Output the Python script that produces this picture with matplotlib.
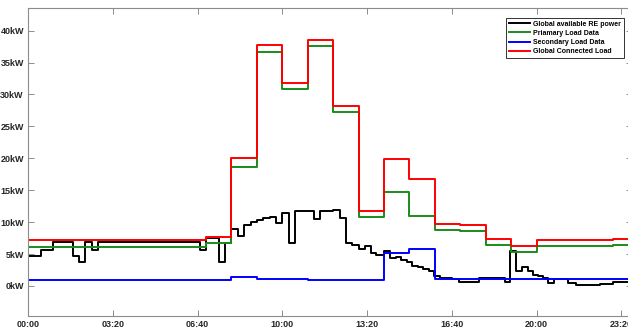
import numpy as np
import matplotlib
matplotlib.use('Agg')
import matplotlib.pyplot as plt

plt.rcParams['font.family'] = ['Liberation Sans', 'DejaVu Sans']
plt.rcParams['font.weight'] = 'bold'

# hourly loads (kW), one value per hour starting 00:00
hours = np.arange(24)
primary_kw = [6.1, 6.1, 6.1, 6.1, 6.1, 6.1, 6.1, 6.7, 18.6, 36.7, 30.8, 37.6,
              27.2, 10.8, 14.7, 11.0, 8.7, 8.6, 6.4, 5.4, 6.2, 6.25, 6.3, 6.35]
secondary_kw = [1.0, 1.0, 1.0, 1.0, 1.0, 0.98, 0.95, 0.95, 1.4, 1.15, 1.05, 1.0,
                1.0, 1.0, 5.1, 5.8, 1.1, 1.1, 1.1, 1.1, 1.1, 1.1, 1.1, 1.1]
connected_kw = [7.15, 7.15, 7.15, 7.15, 7.15, 7.15, 7.15, 7.6, 20.0, 37.8, 31.8, 38.6,
                28.2, 11.7, 19.9, 16.7, 9.7, 9.5, 7.3, 6.2, 7.2, 7.2, 7.25, 7.3]
connected_start_kw = 1.0   # first sample before the load switches on

# available RE power, step breakpoints (minutes from midnight, kW)
re_t = [0, 30, 60, 105, 120, 135, 150, 165, 405, 420, 450, 465, 480, 495, 510,
        525, 540, 555, 570, 585, 600, 615, 630, 675, 690, 720, 735, 750, 765,
        780, 795, 810, 822, 840, 855, 868, 881, 893, 907, 921, 932, 946, 958,
        971, 1000, 1018, 1035, 1065, 1125, 1137, 1151, 1165, 1180, 1192, 1204,
        1216, 1228, 1241, 1274, 1294, 1349, 1380, 1440]
re_kw = [4.7, 5.6, 6.95, 4.7, 3.7, 6.95, 5.6, 6.95, 5.6, 7.5, 3.8, 6.8, 8.9, 7.9, 9.5,
         10.1, 10.3, 10.6, 10.85, 9.8, 11.4, 6.8, 11.7, 10.5, 11.8, 11.9, 10.6, 6.8, 6.4,
         5.85, 6.3, 5.1, 4.85, 5.5, 4.4, 4.6, 4.1, 3.7, 3.2, 2.9, 2.7, 2.35, 1.5,
         1.3, 1.1, 0.7, 0.55, 1.2, 0.6, 5.5, 2.35, 2.9, 2.35, 1.8, 1.5,
         1.2, 0.45, 1.05, 0.45, 0.2, 0.3, 0.7, 0.7]

tick_min = [0, 200, 400, 600, 800, 1000, 1200, 1400]
tick_lbl = ['00:00', '03:20', '06:40', '10:00', '13:20', '16:40', '20:00', '23:20']
ytick_kw = [0, 5, 10, 15, 20, 25, 30, 35, 40]

W, H = 628, 330
fig = plt.figure(figsize=(W / 100, H / 100), dpi=100)
ax = fig.add_axes([28 / W, (H - 316) / H, (632 - 28) / W, (316 - 8) / H])

# step series
t_h = np.append(hours * 60, 1440)
def steps(v):
    return np.append(v, v[-1])

lw = 1.4
ax.step(re_t, re_kw, where='post', color='black', lw=lw, label='Global available RE power')
ax.step(t_h, steps(primary_kw), where='post', color='#1a8c1a', lw=lw, label='Priamary Load Data')
ax.step(t_h, steps(secondary_kw), where='post', color='#0000ff', lw=lw, label='Secondary Load Data')
ax.step(np.insert(t_h, 0, 0), np.insert(steps(connected_kw), 0, connected_start_kw),
        where='post', color='#ff0000', lw=lw, label='Global Connected Load')

ax.set_xlim(0, 1425)
ax.set_ylim(-4.7, 43.55)
ax.set_xticks(tick_min)
ax.set_xticklabels(tick_lbl)
ax.set_yticks(ytick_kw)
ax.set_yticklabels(['%dkW' % v for v in ytick_kw])

grey = '#8c8c8c'
for s in ax.spines.values():
    s.set_color(grey)
    s.set_linewidth(0.8)
ax.tick_params(direction='in', length=4, width=0.7, color=grey,
               top=True, right=True, labelsize=6.5, labelcolor='#262626', pad=3)
for lab in ax.get_xticklabels() + ax.get_yticklabels():
    lab.set_fontweight('bold')

leg = ax.legend(loc='upper right', bbox_to_anchor=(0.987, 0.9675),
                prop={'weight': 'bold', 'size': 5}, frameon=True, fancybox=False,
                handlelength=3.0, handletextpad=0.5, borderpad=0.4,
                labelspacing=0.3, borderaxespad=0)
leg.get_frame().set_edgecolor('black')
leg.get_frame().set_linewidth(0.7)

fig.savefig('out.png', dpi=100)
